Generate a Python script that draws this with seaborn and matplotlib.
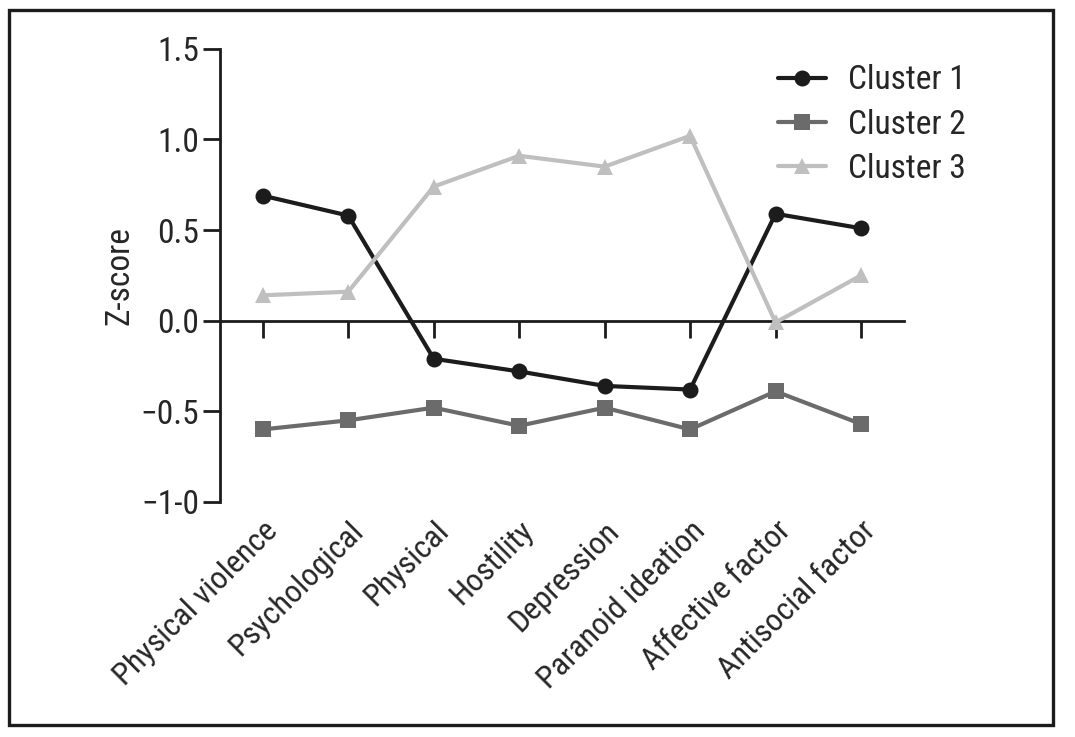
import pandas as pd
import matplotlib.pyplot as plt
import seaborn as sns
from matplotlib import font_manager
from matplotlib.patches import Rectangle

# Data
factors = ["Physical violence", "Psychological", "Physical", "Hostility",
           "Depression", "Paranoid ideation", "Affective factor", "Antisocial factor"]
cluster1 = [0.69, 0.58, -0.21, -0.28, -0.36, -0.38, 0.59, 0.51]
cluster2 = [-0.60, -0.55, -0.48, -0.58, -0.48, -0.60, -0.39, -0.57]
cluster3 = [0.14, 0.16, 0.74, 0.91, 0.85, 1.02, -0.01, 0.25]
y_ticks = [-1.0, -0.5, 0.0, 0.5, 1.0, 1.5]
y_tick_labels = ["\u22121-0", "\u22120.5", "0.0", "0.5", "1.0", "1.5"]

df = pd.DataFrame({
    "factor": factors * 3,
    "z": cluster1 + cluster2 + cluster3,
    "cluster": ["Cluster 1"] * 8 + ["Cluster 2"] * 8 + ["Cluster 3"] * 8,
})

sns.set_theme(style="white")

# pick a condensed font if there is one
narrow = None
for name in ["Liberation Sans Narrow", "Roboto Condensed", "Open Sans Condensed"]:
    try:
        font_manager.findfont(name, fallback_to_default=False)
        narrow = name
        break
    except Exception:
        pass
if narrow:
    plt.rcParams["font.family"] = [narrow, "DejaVu Sans"]
    fs, fs_x = 24, 23
else:
    plt.rcParams["font.family"] = ["Liberation Sans", "DejaVu Sans"]
    fs, fs_x = 18, 18

fig = plt.figure(figsize=(10.75, 7.37), dpi=100)
ax = fig.add_axes([0.2047, 0.319, 0.636, 0.6147])

palette = {"Cluster 1": "#1c1c1c", "Cluster 2": "#6b6b6b", "Cluster 3": "#bfbfbf"}
markers = {"Cluster 1": "o", "Cluster 2": "s", "Cluster 3": "^"}

sns.lineplot(data=df, x="factor", y="z", hue="cluster", style="cluster",
             palette=palette, markers=markers, dashes=False, sort=False,
             linewidth=3, markersize=11.5, markeredgewidth=0, ax=ax)

ax.set_xlim(-0.5, len(factors) - 0.5)
ax.set_ylim(-1.0, 1.5)
ax.set_yticks(y_ticks)
ax.set_yticklabels(y_tick_labels, fontsize=fs)
ax.set_ylabel("Z-score", fontsize=fs, labelpad=4)
ax.set_xlabel("")

for s in ["top", "right", "bottom"]:
    ax.spines[s].set_visible(False)
ax.spines["left"].set_linewidth(2)
ax.spines["left"].set_color("#1c1c1c")
ax.tick_params(axis="y", direction="out", length=12, width=2, color="#1c1c1c",
               pad=3, left=True)
ax.tick_params(axis="x", length=0, pad=10)
ax.set_xticks(range(len(factors)))
ax.set_xticklabels(factors, rotation=45, ha="right", rotation_mode="anchor",
                   fontsize=fs_x)

# axis line with ticks at y = 0
zero_ax = ax.secondary_xaxis(0, transform=ax.transData)
zero_ax.set_xticks(range(len(factors)))
zero_ax.set_xticklabels([])
zero_ax.spines["bottom"].set_linewidth(2)
zero_ax.spines["bottom"].set_color("#1c1c1c")
zero_ax.tick_params(direction="out", length=12, width=2, color="#1c1c1c", bottom=True)

sns.move_legend(ax, "upper left", bbox_to_anchor=(0.816, 0.966), frameon=False,
                title=None, fontsize=fs, handlelength=1.45, handletextpad=0.65,
                labelspacing=0.37, borderaxespad=0, borderpad=0)

# frame around the whole figure
fig.patches.append(Rectangle((0.0084, 0.0163), 0.971, 0.970, transform=fig.transFigure,
                             fill=False, linewidth=2.4, edgecolor="#1c1c1c"))

fig.savefig("out.png", dpi=100)
